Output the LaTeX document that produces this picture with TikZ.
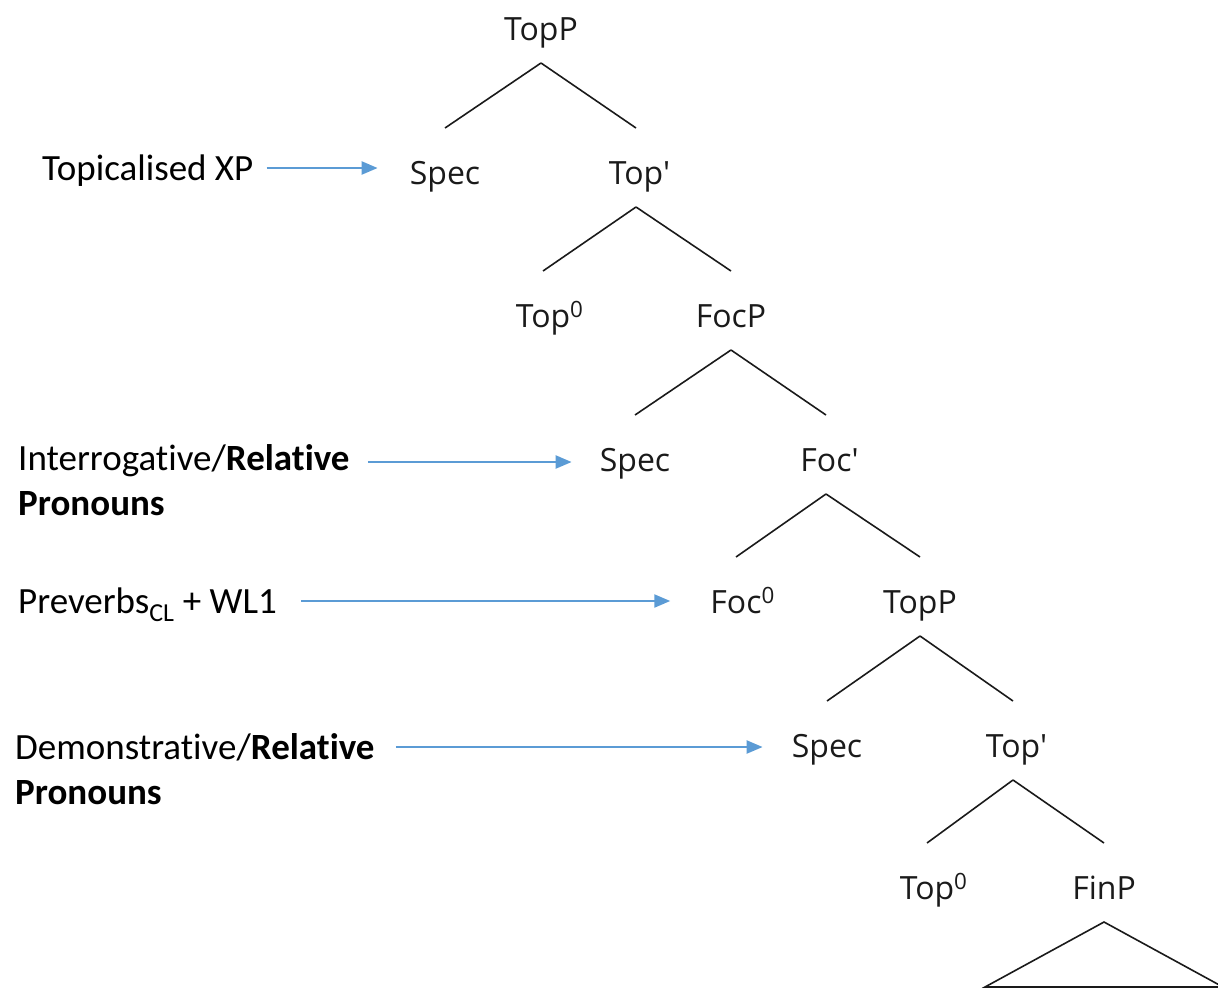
\documentclass[tikz,border=0pt]{standalone}
\usepackage{fontspec}
\setmainfont{Open Sans}
% no TeX ligature mapping here, so ' stays a straight prime
\newfontfamily\catfont{Open Sans}
\newfontfamily\notefont[Ligatures=NoCommon]{Carlito}
\usetikzlibrary{arrows.meta}
\definecolor{arrowblue}{HTML}{5B9BD5}
\definecolor{ink}{HTML}{1A1A1A}
\tikzset{
  cat/.style={inner sep=0pt, anchor=base, text=ink, font=\catfont\fontsize{32}{38}\selectfont},
  note/.style={inner sep=0pt, anchor=base west, text height=24pt, text depth=0pt,
               font=\notefont\fontsize{37}{44}\selectfont},
  branch/.style={draw=ink, line width=1.6pt},
  pointer/.style={draw=arrowblue, line width=2.2pt, -{Triangle[length=16pt,width=13pt]}}
}
% tree branch from parent to child, measured from the baselines
\newcommand{\branchto}[2]{\draw[branch] ([yshift=-23pt]#1.base) -- ([yshift=56pt]#2.base);}
\newcommand{\zerosup}{\rlap{\textsuperscript{0}}}
\newcommand{\primemark}{\rlap{'}}
\begin{document}
\begin{tikzpicture}[x=1pt,y=-1pt]
\clip (0,0) rectangle (1218,988);
\useasboundingbox (0,0) rectangle (1218,988);

% categories, placed on their baselines
\node[cat] (topp1) at (541,40) {TopP};
\node[cat] (spec1) at (445,184) {Spec};
\node[cat] (topb1) at (636,184) {Top\primemark};
\node[cat] (topz1) at (543,327) {Top\zerosup};
\node[cat] (focp)  at (731,327) {FocP};
\node[cat] (spec2) at (635,471) {Spec};
\node[cat] (focb)  at (826,471) {Foc\primemark};
\node[cat] (focz)  at (736,613) {Foc\zerosup};
\node[cat] (topp2) at (920,613) {TopP};
\node[cat] (spec3) at (827,757) {Spec};
\node[cat] (topb2) at (1013,757) {Top\primemark};
\node[cat] (topz2) at (927,899) {Top\zerosup};
\node[cat] (finp)  at (1104,899) {FinP};

% branches
\branchto{topp1}{spec1}
\branchto{topp1}{topb1}
\branchto{topb1}{topz1}
\branchto{topb1}{focp}
\branchto{focp}{spec2}
\branchto{focp}{focb}
\branchto{focb}{focz}
\branchto{focb}{topp2}
\branchto{topp2}{spec3}
\branchto{topp2}{topb2}
\branchto{topb2}{topz2}
\branchto{topb2}{finp}

% triangle below FinP
\coordinate (finl) at (985,987);
\coordinate (finr) at (1223,987);
\draw[branch, line join=miter] (finl) -- ([yshift=-23pt]finp.base) -- (finr) -- cycle;

% annotations on the left
\node[note] (topxp) at (42,180) {Topicalised XP};
\node[note] (intrel) at (18,470) {Interrogative/\textbf{Relative}};
\node[note] (intpro) at (18,515) {\textbf{Pronouns}};
\node[note] (prev) at (18,613) {Preverbs\textsubscript{CL} + WL1};
\node[note] (demrel) at (15,759) {Demonstrative/\textbf{Relative}};
\node[note] (dempro) at (15,804) {\textbf{Pronouns}};

% pointers to the positions
\draw[pointer] ([xshift=13pt]topxp.east) -- ([xshift=-32pt]topxp.east -| spec1.west);
\draw[pointer] ([xshift=18pt,yshift=-4pt]intrel.east) -- ([xshift=-28pt,yshift=-4pt]intrel.east -| spec2.west);
\draw[pointer] ([xshift=24pt]prev.east) -- ([xshift=-40pt]prev.east -| focz.west);
\draw[pointer] ([xshift=21pt]demrel.east) -- ([xshift=-29pt]demrel.east -| spec3.west);
\end{tikzpicture}
\end{document}
